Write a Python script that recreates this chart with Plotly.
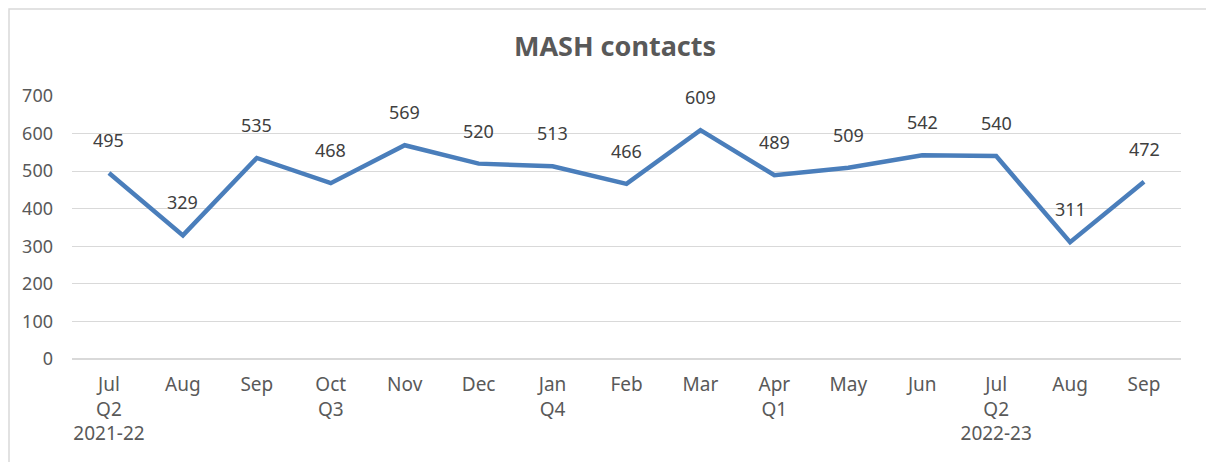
import plotly.graph_objects as go

# chart data
months = ["Jul", "Aug", "Sep", "Oct", "Nov", "Dec", "Jan", "Feb", "Mar",
          "Apr", "May", "Jun", "Jul", "Aug", "Sep"]
quarters = ["Q2", "", "", "Q3", "", "", "Q4", "", "", "Q1", "", "", "Q2", "", ""]
years = ["2021-22", "", "", "", "", "", "", "", "", "", "", "", "2022-23", "", ""]
contacts = [495, 329, 535, 468, 569, 520, 513, 466, 609, 489, 509, 542, 540, 311, 472]

tick_text = ["<br>".join(p for p in (m, q, y) if p) for m, q, y in zip(months, quarters, years)]
x_pos = list(range(len(months)))

fig = go.Figure()

fig.add_trace(go.Scatter(
    x=x_pos,
    y=contacts,
    mode="lines",
    line=dict(color="#4a7ebb", width=4.5),
    hoverinfo="y",
))

# data labels above each point
for xi, v in zip(x_pos, contacts):
    fig.add_annotation(x=xi, y=v, text=str(v), showarrow=False,
                       yshift=33, font=dict(size=18, color="#404040"))

# outer chart border
fig.add_shape(type="rect", xref="paper", yref="paper",
              x0=-0.0568, x1=1.0262, y0=-0.5, y1=1.331,
              line=dict(color="#d9d9d9", width=1.5), layer="below")

fig.update_layout(
    width=1214,
    height=462,
    margin=dict(l=64, r=41, t=88, b=111),
    paper_bgcolor="white",
    plot_bgcolor="white",
    font=dict(family="Noto Sans", color="#595959", size=18),
    title=dict(text="<b>MASH contacts</b>", x=0.5, xanchor="center",
               y=1 - 39 / 462, yanchor="middle",
               font=dict(size=27, color="#595959")),
    showlegend=False,
    xaxis=dict(
        range=[-0.5, len(months) - 0.5],
        tickmode="array",
        tickvals=x_pos,
        ticktext=tick_text,
        showgrid=False,
        zeroline=False,
        showline=False,
        ticks="",
        ticklabelstandoff=12,
        tickfont=dict(size=19, color="#595959"),
    ),
    yaxis=dict(
        range=[0, 700],
        dtick=100,
        showgrid=True,
        gridcolor="#d9d9d9",
        gridwidth=1,
        zeroline=True,
        zerolinecolor="#d9d9d9",
        zerolinewidth=1.5,
        showline=False,
        ticks="",
        ticklabelstandoff=18,
        tickfont=dict(size=18, color="#595959"),
    ),
)

fig.write_html("out.html")
